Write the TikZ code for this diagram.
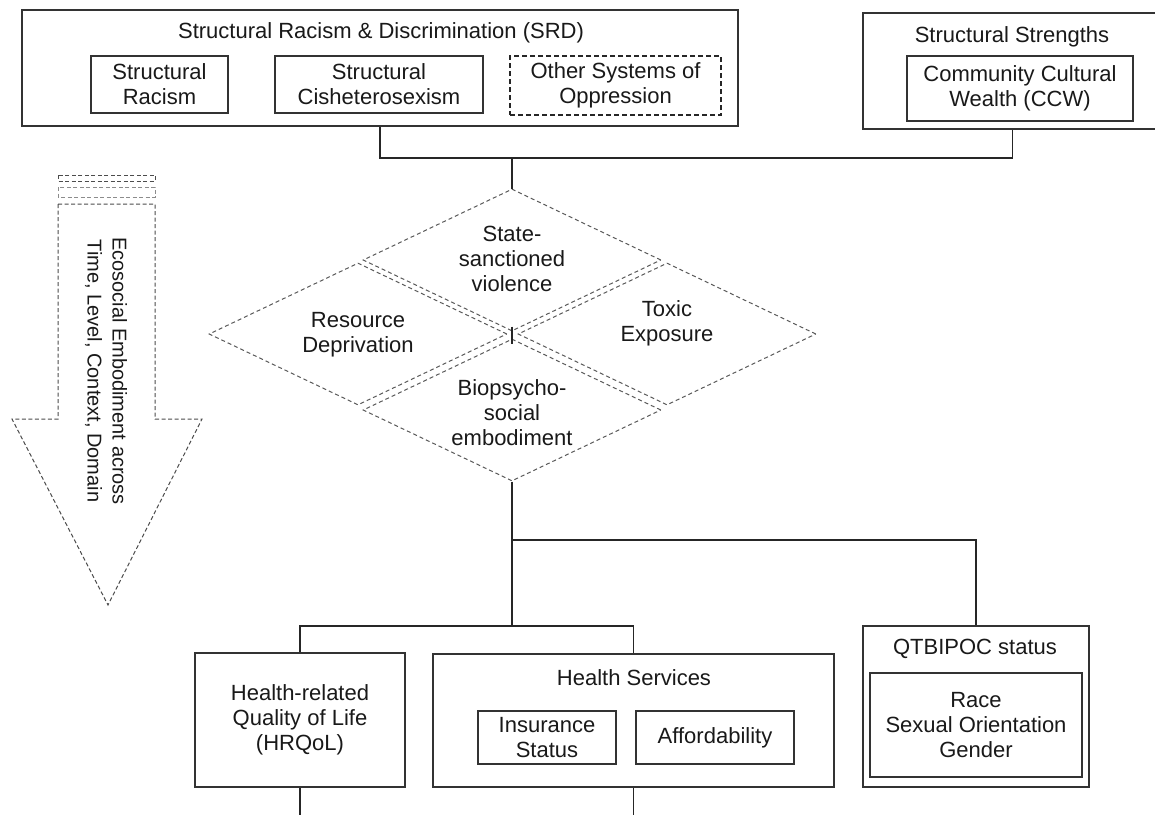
\documentclass[tikz,border=0pt]{standalone}
\usepackage{fontspec}
\setmainfont{Liberation Sans}
\usetikzlibrary{shapes.geometric}

\begin{document}
\begin{tikzpicture}[x=1pt,y=-1pt,
  every node/.style={font=\fontsize{22}{25}\selectfont, align=center, inner sep=0pt, text=black!90},
  frame/.style={draw=black!80, line width=1.3pt, rectangle},
  dbox/.style={draw=black!85, line width=1.2pt, rectangle, dash pattern=on 5pt off 3pt},
  dia/.style={diamond, draw=black!65, line width=1pt, dash pattern=on 4pt off 3pt,
              minimum width=298pt, minimum height=142pt, inner sep=0pt},
  wire/.style={draw=black!85, line width=1.3pt},
  stripe/.style={draw=black!70, line width=1pt, dash pattern=on 4pt off 2.5pt}]

\useasboundingbox (0,0) rectangle (1155,814);
\fill[white] (0,0) rectangle (1155,814);

% structural racism & discrimination
\node[frame, minimum width=716pt, minimum height=116pt] (srd) at (380,68) {};
\node (srdtitle) at (381,33) {Structural Racism \& Discrimination (SRD)};
\node[frame, minimum width=137pt, minimum height=57pt] (racism) at (159.5,84.5) {Structural\\Racism};
\node[frame, minimum width=208pt, minimum height=57pt] (cishet) at (379,84.5) {Structural\\Cisheterosexism};
\node[dbox, minimum width=211pt, minimum height=59pt] (other) at (615.5,85.5) {Other Systems of\\Oppression};

% structural strengths
\node[frame, minimum width=299pt, minimum height=116pt] (ss) at (1012.5,71) {};
\node (sstitle) at (1012,37) {Structural Strengths};
\node[frame, minimum width=226pt, minimum height=65pt] (ccw) at (1020,88.5) {Community Cultural\\Wealth (CCW)};

% pathways
\node[dia] (dtop) at (512,260) {};
\node[dia] (dleft) at (358,334) {};
\node[dia] (dright) at (667,334) {};
\node[dia] (dbot) at (512,410) {};
\node (ttop) at (512,259) {State-\\sanctioned\\violence};
\node (tleft) at (358,335) {Resource\\Deprivation};
\node (tright) at (667,323) {Toxic\\Exposure};
\node (tbot) at (512,413) {Biopsycho-\\social\\embodiment};

% outcomes
\node[frame, minimum width=210pt, minimum height=134pt] (hrq) at (300,720) {Health-related\\Quality of Life\\(HRQoL)};
\node[frame, minimum width=401pt, minimum height=133pt] (hs) at (633.5,720.5) {};
\node (hstitle) at (634,678) {Health Services};
\node[frame, minimum width=138pt, minimum height=53pt] (ins) at (547,737.5) {Insurance\\Status};
\node[frame, minimum width=158pt, minimum height=53pt] (aff) at (715,737.5) {Affordability};
\node[frame, minimum width=226pt, minimum height=161pt] (qt) at (976,706.5) {};
\node (qttitle) at (975,649) {QTBIPOC status};
\node[frame, minimum width=212pt, minimum height=104pt] (qtin) at (976,725) {Race\\Sexual Orientation\\Gender};

% connectors
\coordinate (j1) at (512,158);
\coordinate (b1) at (512,540);
\coordinate (b2) at (512,626);
\coordinate (hrqend) at (300,820);
\coordinate (hsend) at (633.5,820);
\draw[wire] (srd.south) |- (j1) -| (ss.south);
\draw[wire] (j1) -- (dtop.north);
\draw[wire] ([yshift=5pt]dtop.south) -- ([yshift=-5pt]dbot.north);
\draw[wire] (dbot.south) -- (b2);
\draw[wire] (b1) -| (qt.north);
\draw[wire] (hrq.north) |- (b2) -| (hs.north);
\draw[wire] (hrq.south) -- (hrqend);
\draw[wire] (hs.south) -- (hsend);

% striped arrow
\draw[stripe] (58,175) rectangle (155,181);
\draw[stripe, draw=black!45] (58,187) rectangle (155,197);
\draw[stripe] (58,204) -- (155,204) -- (155,419) -- (202,419) -- (108,605)
  -- (12,419) -- (58,419) -- cycle;
\node[rotate=-90, font=\fontsize{20}{25}\selectfont] (arrowtxt) at (106,371)
  {Ecosocial Embodiment across\\Time, Level, Context, Domain};

\end{tikzpicture}
\end{document}
